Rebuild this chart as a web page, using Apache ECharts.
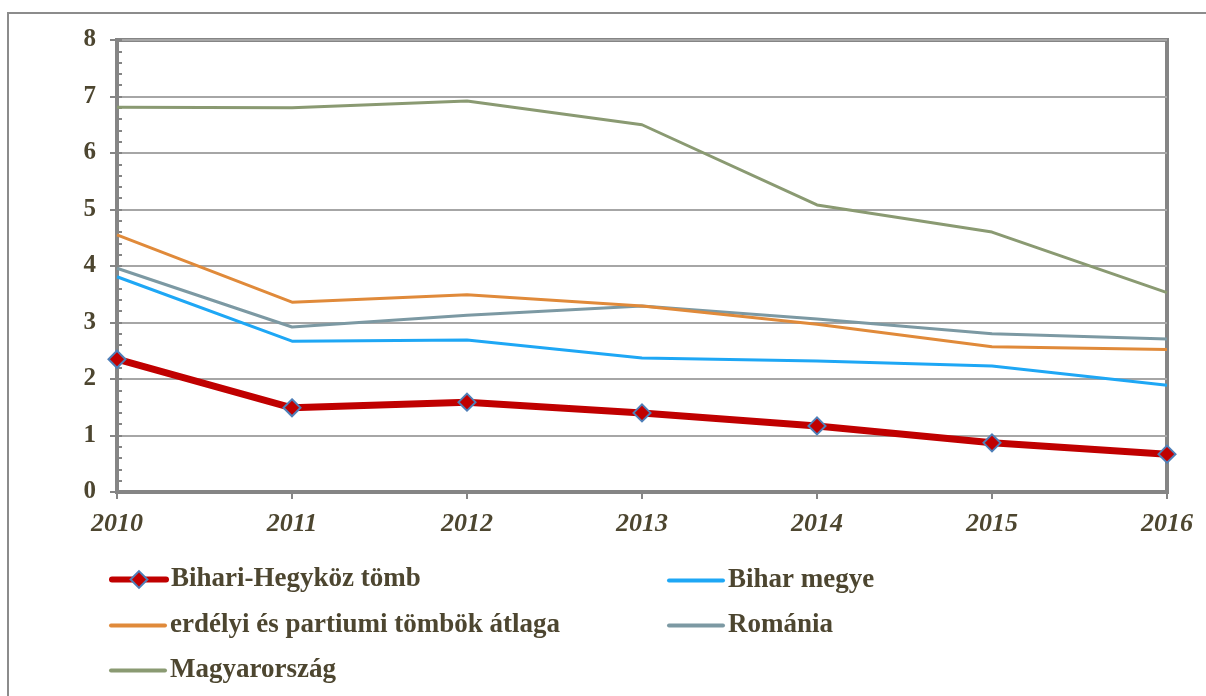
<!DOCTYPE html>
<html><head><meta charset="utf-8">
<script src="https://cdn.jsdelivr.net/npm/echarts@6/dist/echarts.min.js"></script>
<style>html,body{margin:0;padding:0;background:#fff}#c{width:1206px;height:696px}</style>
</head><body><div id="c"></div>
<script>
const years = ['2010','2011','2012','2013','2014','2015','2016'];
const yTicks = [0,1,2,3,4,5,6,7,8];
const bihariHegykoz = [2.35,1.49,1.59,1.40,1.17,0.87,0.67];
const biharMegye = [3.81,2.67,2.69,2.37,2.32,2.23,1.89];
const erdelyiAtlag = [4.55,3.36,3.49,3.29,2.97,2.57,2.52];
const romania = [3.96,2.92,3.13,3.29,3.06,2.80,2.71];
const magyarorszag = [6.81,6.80,6.92,6.50,5.08,4.60,3.53];
const names = ['Bihari-Hegyköz tömb','Bihar megye','erdélyi és partiumi tömbök átlaga','Románia','Magyarország'];

const txt = '#4d4630';
const font = '"Liberation Serif","Times New Roman",serif';
const chart = echarts.init(document.getElementById('c'));
function leg(name, left, top, red){
  const o = {data:[name], left:left, top:top, padding:0, itemWidth:54, itemHeight:red?21:16, itemGap:0,
    textStyle:{color:txt, fontFamily:font, fontWeight:'bold', fontSize:27, padding:[0,0,0,0]}};
  if (red) {
    o.lineStyle = {width:6, cap:'round'};
  } else {
    o.lineStyle = {width:4, cap:'round'};
    o.itemStyle = {color:'rgba(0,0,0,0)', borderWidth:0, opacity:0};
  }
  return o;
}
function line(name, data, color){
  return {name:name, type:'line', data:data, symbol:'none', lineStyle:{color:color, width:3}, itemStyle:{color:color}, z:2};
}
chart.setOption({
  animation:false,
  graphic:[{type:'rect', shape:{x:8,y:13,width:1220,height:700}, style:{fill:'none', stroke:'#8c8c8c', lineWidth:2}, z:-10}],
  grid:{left:117, top:40, right:39, bottom:204, show:true, borderColor:'#858585', borderWidth:4},
  legend:[
    leg(names[0],109,566,true), leg(names[2],109,612), leg(names[4],109,657),
    leg(names[1],667,567), leg(names[3],667,612)
  ],
  xAxis:{type:'category', data:years, boundaryGap:false,
    axisLine:{lineStyle:{color:'#858585', width:4}},
    axisTick:{show:true, length:7, lineStyle:{color:'#858585', width:2}},
    axisLabel:{color:txt, fontFamily:font, fontWeight:'bold', fontStyle:'italic', fontSize:26, margin:19},
    splitLine:{show:false}},
  yAxis:[{type:'value', min:0, max:8, interval:1,
    axisLine:{show:true, lineStyle:{color:'#858585', width:4}},
    axisTick:{show:true, length:7, lineStyle:{color:'#858585', width:2}},
    axisLabel:{color:txt, fontFamily:font, fontWeight:'bold', fontSize:25, margin:21,
      formatter:v=>yTicks.includes(v)?String(v):''},
    splitLine:{show:true, lineStyle:{color:'#a6a6a6', width:2}}},
   {type:'value', min:0, max:8, interval:0.2, position:'left',
    axisLine:{show:false}, axisLabel:{show:false}, splitLine:{show:false},
    axisTick:{show:true, inside:true, length:5, lineStyle:{color:'#858585', width:2}}}],
  series:[
    line(names[4], magyarorszag, '#8a9a72'),
    line(names[3], romania, '#7c99a3'),
    line(names[2], erdelyiAtlag, '#e08a3a'),
    line(names[1], biharMegye, '#1ea7f5'),
    {name:names[0], type:'line', data:bihariHegykoz, symbol:'diamond', symbolSize:17,
      lineStyle:{color:'#c00000', width:7}, itemStyle:{color:'#c00000', borderColor:'#4f7fb8', borderWidth:2}, z:5}
  ]
});
</script></body></html>
